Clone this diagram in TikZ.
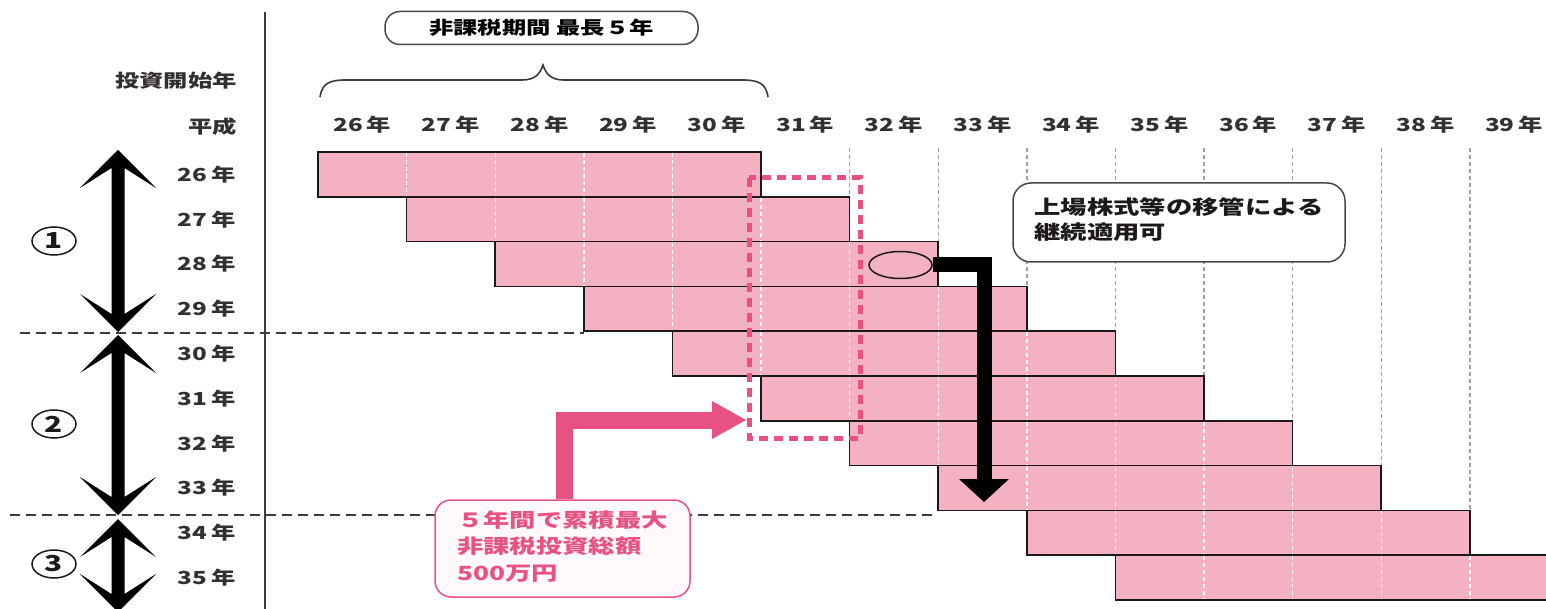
\documentclass[tikz,border=0pt]{standalone}
\usepackage{fontspec}
\setmainfont{Noto Sans CJK JP}
\usepackage{graphicx}
\usetikzlibrary{shapes.geometric,calc}
\definecolor{barpink}{RGB}{243,177,193}
\definecolor{accent}{RGB}{232,82,130}
\definecolor{ink}{RGB}{30,25,25}
\definecolor{gridgray}{RGB}{160,160,160}
\definecolor{boxpink}{RGB}{255,249,251}
\newcommand{\wide}[1]{\scalebox{1.35}[1]{#1}}
\tikzset{
  bar/.style={fill=barpink, draw=ink, line width=1.5pt},
  gridline/.style={draw=gridgray, line width=1.4pt, dash pattern=on 4pt off 3pt},
  inline/.style={draw=white, line width=1.4pt, dash pattern=on 4pt off 3pt},
  sepline/.style={draw=ink!85, line width=1.3pt, dash pattern=on 10pt off 6pt},
  yearlab/.style={font=\fontsize{18}{20}\selectfont\bfseries, text=ink!90, inner sep=0pt},
  numlab/.style={ellipse, draw=ink, line width=1.5pt, minimum width=44pt, minimum height=28pt, inner sep=0pt, font=\fontsize{22}{24}\selectfont\bfseries, text=ink},
  roundbox/.style={draw=ink!80, line width=1.5pt, fill=white, inner sep=0pt},
  bigarrow/.style={fill=black},
}
\begin{document}
\begin{tikzpicture}[x=1pt,y=-1pt]
\useasboundingbox (0,0) rectangle (1546,609);
\fill[white] (0,0) rectangle (1546,609);
\def\Xo{318}\def\Cw{88.6}\def\Yo{152}\def\Rh{44.8}
% separators
\draw[sepline] (20,333) -- (584,333);
\draw[sepline] (10,515) -- (937,515);
% vertical axis
\draw[ink!85, line width=1.5pt] (265,12) -- (265,609);
% grid lines above bars
\foreach \j in {6,...,13}{
  \draw[gridline] ({\Xo+\Cw*\j},148) -- ({\Xo+\Cw*\j},{\Yo+\Rh*(\j-5)});
}
% bars
\foreach \k in {0,...,9}{
  \draw[bar] ({\Xo+\Cw*\k},{\Yo+\Rh*\k}) rectangle ({\Xo+\Cw*(\k+5)},{\Yo+\Rh*(\k+1)});
}
\foreach \k in {0,...,9}{
  \foreach \i in {1,...,4}{
    \draw[inline] ({\Xo+\Cw*(\k+\i)},{\Yo+\Rh*\k+1}) -- ({\Xo+\Cw*(\k+\i)},{\Yo+\Rh*(\k+1)-1});
  }
}
% labels
\node[yearlab, anchor=east] (invest) at (237,81) {\wide{投資開始年}};
\node[yearlab, anchor=east] (heisei) at (237,127) {\wide{平成}};
\foreach \j in {0,...,13}{
  \pgfmathtruncatemacro\yr{26+\j}
  \node[yearlab] (top\j) at ({\Xo+\Cw*\j+44.3},125) {\wide{\yr\kern3pt年}};
}
\foreach \k in {0,...,9}{
  \pgfmathtruncatemacro\yr{26+\k}
  \node[yearlab, anchor=east] (left\k) at (236,{\Yo+\Rh*\k+22.4}) {\wide{\yr\kern3pt年}};
}
% brace
\draw[ink!85, line width=1.6pt] (320,97) .. controls (322,83) and (330,80) .. (346,80) -- (522,80) .. controls (535,80) and (540,74) .. (543,65) .. controls (546,74) and (551,80) .. (564,80) -- (742,80) .. controls (758,80) and (766,83) .. (768,97);
% top box
\node[roundbox, rounded corners=15pt, minimum width=313pt, minimum height=33pt] (topbox) at (541.5,28) {\wide{\fontsize{18}{20}\selectfont\bfseries 非課税期間 最長５年}};
% circled numbers
\node[numlab] (n1) at (54,241) {\wide{1}};
\node[numlab] (n2) at (54,424) {\wide{2}};
\node[numlab] (n3) at (54,564) {\wide{3}};
% double arrows
\foreach \t/\b in {150/332, 335/515, 519/612}{
  \fill[bigarrow] (118,\t) -- (156,{\t+38}) -- (124.5,{\t+18}) -- (124.5,{\b-18}) -- (156,{\b-38}) -- (118,\b) -- (80,{\b-38}) -- (111.5,{\b-18}) -- (111.5,{\t+18}) -- (80,{\t+38}) -- cycle;
}
% pink dashed range
\draw[accent, line width=5pt, dash pattern=on 9pt off 6pt] (749,178) rectangle (860,438);
% ellipse and transfer arrow
\node[ellipse, draw=ink, line width=1.5pt, minimum width=63pt, minimum height=27pt, inner sep=0pt] (circ) at (900.5,265) {};
\coordinate (ltip) at (984,502);
\coordinate (lbase) at (984,479);
\draw[black, line width=15pt] (circ.east) -| (lbase);
\fill[black] ($(lbase)+(-25,0)$) -- ($(lbase)+(25,0)$) -- (ltip) -- cycle;
% callout
\node[roundbox, rounded corners=18pt, minimum width=332pt, minimum height=79pt] (callout) at (1179,222.5) {\wide{\fontsize{19.5}{25}\selectfont\bfseries\color{ink}\begin{tabular}{@{}l@{}}上場株式等の移管による\\継続適用可\end{tabular}}};
% pink box and arrow
\node[draw=accent, line width=1.5pt, rounded corners=16pt, fill=boxpink, minimum width=255pt, minimum height=97pt, inner sep=0pt, text=accent] (pbox) at (562.5,548.5) {\wide{\fontsize{19.5}{26.5}\selectfont\bfseries\begin{tabular}{@{}l@{}}５年間で累積最大\\非課税投資総額\\500万円\end{tabular}}};
\coordinate (ptip) at (746,420);
\coordinate (pbase) at (712,420);
\draw[accent, line width=17pt] ([xshift=2pt]pbox.north) |- ($(pbase)+(1,0)$);
\fill[accent] ($(pbase)+(0,-19)$) -- (ptip) -- ($(pbase)+(0,19)$) -- cycle;
\end{tikzpicture}
\end{document}
